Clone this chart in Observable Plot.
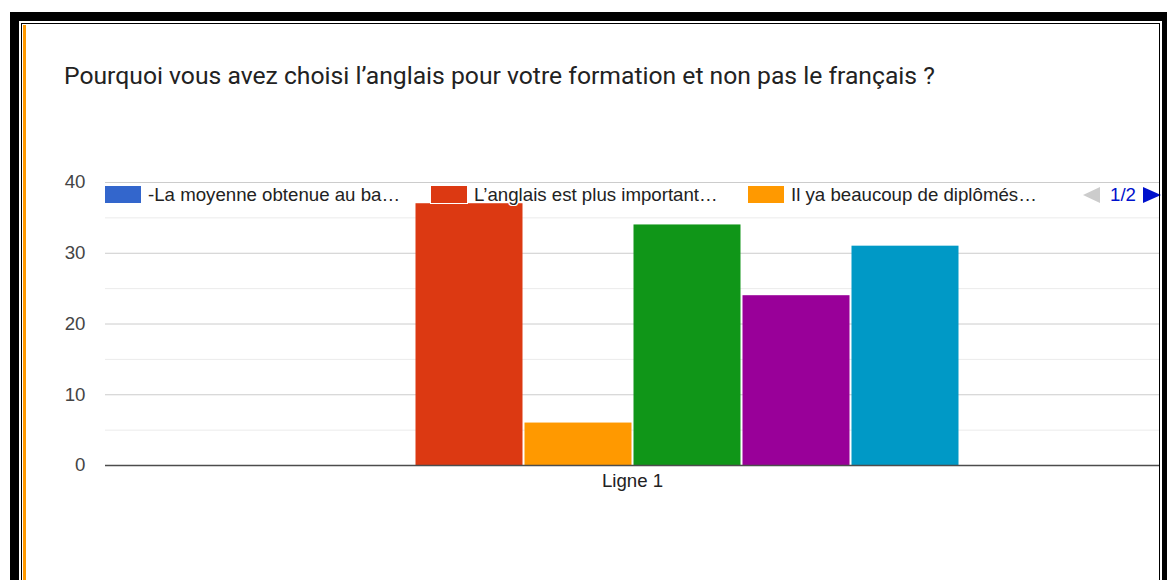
<!DOCTYPE html>
<html>
<head>
<meta charset="utf-8">
<script src="https://cdn.jsdelivr.net/npm/d3@7"></script>
<script src="https://cdn.jsdelivr.net/npm/@observablehq/plot@0.6"></script>
<style>
  html, body { margin: 0; padding: 0; background: #fff; }
  #wrap { position: relative; width: 1167px; height: 580px; overflow: hidden; background: #fff; }
  .abs { position: absolute; box-sizing: border-box; }
  #title { left: 64px; top: 62px; font-family: Roboto, "Noto Sans", sans-serif; font-size: 24.7px; line-height: 28px; color: #222; white-space: nowrap; }
  #chart { left: 0; top: 150px; }
  .leg { position: absolute; top: 186px; height: 17px; display: flex; align-items: center; font-family: "Liberation Sans", Arial, sans-serif; font-size: 18.67px; color: #222; white-space: nowrap; }
  .sw { width: 36px; height: 17px; box-sizing: border-box; outline: 1px solid #fff; }
  .lt { margin-left: 7px; line-height: 17px; text-shadow: 1px 0 #fff, -1px 0 #fff, 0 1px #fff, 0 -1px #fff, 1px 1px #fff, -1px -1px #fff, 1px -1px #fff, -1px 1px #fff; }
  .tri-l { width: 0; height: 0; border-top: 8.5px solid transparent; border-bottom: 8.5px solid transparent; border-right: 17px solid #cccccc; }
  .tri-r { width: 0; height: 0; border-top: 8.5px solid transparent; border-bottom: 8.5px solid transparent; border-left: 18px solid #0011cc; }
  .page { color: #0011cc; margin: 0 7px 0 10px; line-height: 17px; }
</style>
</head>
<body>
<div id="wrap">
  <div id="title" class="abs">Pourquoi vous avez choisi l’anglais pour votre formation et non pas le français ?</div>
  <div id="chart" class="abs"></div>
  <div id="legend"></div>
  <div class="abs" style="left:10px;top:12px;width:1160px;height:600px;border-left:9px solid #000;border-top:9px solid #000;border-right:8px solid #000;"></div>
  <div class="abs" style="left:21px;top:23px;width:1139px;height:600px;border-left:1px solid #000;border-top:1px solid #000;border-right:1px solid #000;"></div>
  <div class="abs" style="left:23px;top:25px;width:3px;height:600px;background:#ff9900;"></div>
</div>
<script>
// ---- data ----
const categories = ["Ligne 1"];
const seriesNames = [
  "-La moyenne obtenue au ba…",
  "L’anglais est plus important…",
  "Il ya beaucoup de diplômés…",
  "Réponse 4",
  "Réponse 5",
  "Réponse 6"
];
const values = [0, 37, 6, 34, 24, 31];
const colors = ["#3366cc", "#dc3912", "#ff9900", "#109618", "#990099", "#0099c6"];
const yTicks = [0, 10, 20, 30, 40];
const minorTicks = [5, 15, 25, 35];
const legendVisible = 3;
const legendPage = "1/2";
const legendLefts = [105, 431, 748];

const table = seriesNames.map((s, i) => ({category: categories[0], series: s, value: values[i]}));

const chart = Plot.plot({
  width: 1167,
  height: 370,
  marginTop: 32,
  marginBottom: 55,
  marginLeft: 105,
  marginRight: 8,
  style: {fontFamily: "'Liberation Sans', Arial, sans-serif", fontSize: "18.67px", color: "#444", background: "transparent", overflow: "visible"},
  x: {domain: seriesNames, paddingInner: 0.01, paddingOuter: 1.83, axis: null},
  y: {domain: [0, 40], axis: null},
  color: {domain: seriesNames, range: colors},
  marks: [
    Plot.ruleY(minorTicks, {stroke: "#ebebeb"}),
    Plot.ruleY(yTicks.filter(t => t > 0), {stroke: "#cccccc"}),
    Plot.axisY(yTicks, {tickSize: 0, tickPadding: 20, label: null}),
    Plot.barY(table, {x: "series", y: "value", fill: "series", insetLeft: 0.5, insetRight: 0.5}),
    Plot.ruleY([0], {stroke: "#4d4d4d", strokeWidth: 1.5}),
    Plot.text(categories, {frameAnchor: "bottom", dy: 21, text: d => d, fill: "#222"})
  ]
});
document.getElementById("chart").appendChild(chart);

// ---- legend (page 1 of 2) ----
const legend = document.getElementById("legend");
seriesNames.slice(0, legendVisible).forEach((name, i) => {
  const item = document.createElement("div");
  item.className = "leg";
  item.style.left = legendLefts[i] + "px";
  const sw = document.createElement("div");
  sw.className = "sw";
  sw.style.background = colors[i];
  const t = document.createElement("span");
  t.className = "lt";
  t.textContent = name;
  item.appendChild(sw);
  item.appendChild(t);
  legend.appendChild(item);
});
const nav = document.createElement("div");
nav.className = "leg";
nav.style.left = "1083px";
nav.innerHTML = '<div class="tri-l"></div><span class="page"></span><div class="tri-r"></div>';
nav.querySelector(".page").textContent = legendPage;
legend.appendChild(nav);
</script>
</body>
</html>
